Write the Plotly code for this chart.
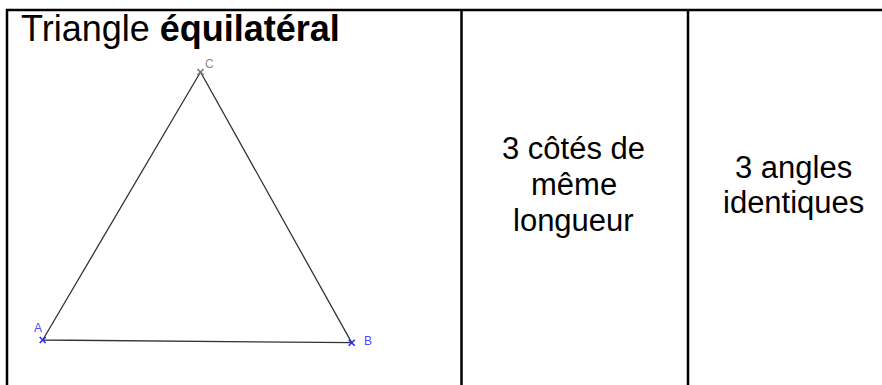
import plotly.graph_objects as go

# ---- data ----
vertex_names = ["A", "B", "C"]
vertex_x = [42.7, 351.7, 200.5]
vertex_y = [340.0, 342.7, 72.0]
title_plain = "Triangle "
title_bold = "équilatéral"
col2_lines = ["3 côtés de", "même", "longueur"]
col3_lines = ["3 angles", "identiques"]

W, H = 882, 385
FONT = "Liberation Sans, Arial, sans-serif"

fig = go.Figure()

# triangle sides A-B-C-A
fig.add_trace(go.Scatter(
    x=vertex_x + [vertex_x[0]],
    y=vertex_y + [vertex_y[0]],
    mode="lines",
    line=dict(color="#333333", width=1.3),
    hoverinfo="skip", showlegend=False,
))
# vertex markers
marker_colors = ["#2a2aff", "#2a2aff", "#777777"]
fig.add_trace(go.Scatter(
    x=vertex_x, y=vertex_y, mode="markers",
    marker=dict(symbol="x-thin", size=6, line=dict(width=1.6, color=marker_colors)),
    hoverinfo="skip", showlegend=False,
))

# vertex labels
label_colors = ["#4a4aff", "#4a4aff", "#8a8a8a"]
label_shift = [(-5, 12), (16, 2), (8.5, 8.5)]
for name, vx, vy, col, (dx, dy) in zip(vertex_names, vertex_x, vertex_y, label_colors, label_shift):
    fig.add_annotation(x=vx, y=vy, text=name, showarrow=False, xref="x", yref="y",
                       xshift=dx, yshift=dy, xanchor="center", yanchor="middle",
                       font=dict(family=FONT, size=12, color=col))

# table borders
border = dict(color="black", width=2.5)
fig.add_shape(type="line", x0=6, x1=W, y0=10, y1=10, xref="x", yref="y", line=border)
fig.add_shape(type="line", x0=7, x1=7, y0=9, y1=H, xref="x", yref="y", line=border)
fig.add_shape(type="line", x0=461.5, x1=461.5, y0=9, y1=H, xref="x", yref="y", line=border)
fig.add_shape(type="line", x0=688, x1=688, y0=9, y1=H, xref="x", yref="y", line=border)

# cell texts (one annotation per line, y = visual centre of the line)
fig.add_annotation(x=19, y=28.5, xref="x", yref="y", showarrow=False,
                   text=f"{title_plain}<b>{title_bold}</b>", xanchor="left", yanchor="middle",
                   font=dict(family=FONT, size=36, color="black"))
col2_y = [148, 184.3, 220.5]
for txt, yy in zip(col2_lines, col2_y):
    fig.add_annotation(x=573.5, y=yy, xref="x", yref="y", showarrow=False,
                       text=txt, xanchor="center", yanchor="middle",
                       font=dict(family=FONT, size=31, color="black"))
col3_y = [167, 202]
for txt, yy in zip(col3_lines, col3_y):
    fig.add_annotation(x=793, y=yy, xref="x", yref="y", showarrow=False,
                       text=txt, xanchor="center", yanchor="middle",
                       font=dict(family=FONT, size=31, color="black"))

fig.update_xaxes(range=[0, W], visible=False, fixedrange=True)
fig.update_yaxes(range=[H, 0], visible=False, fixedrange=True)
fig.update_layout(width=W, height=H, margin=dict(l=0, r=0, t=0, b=0),
                  paper_bgcolor="white", plot_bgcolor="white", showlegend=False)

fig.write_html("out.html", config={"displayModeBar": False},
               post_script="document.body.style.margin='0';document.body.style.overflow='hidden';")
